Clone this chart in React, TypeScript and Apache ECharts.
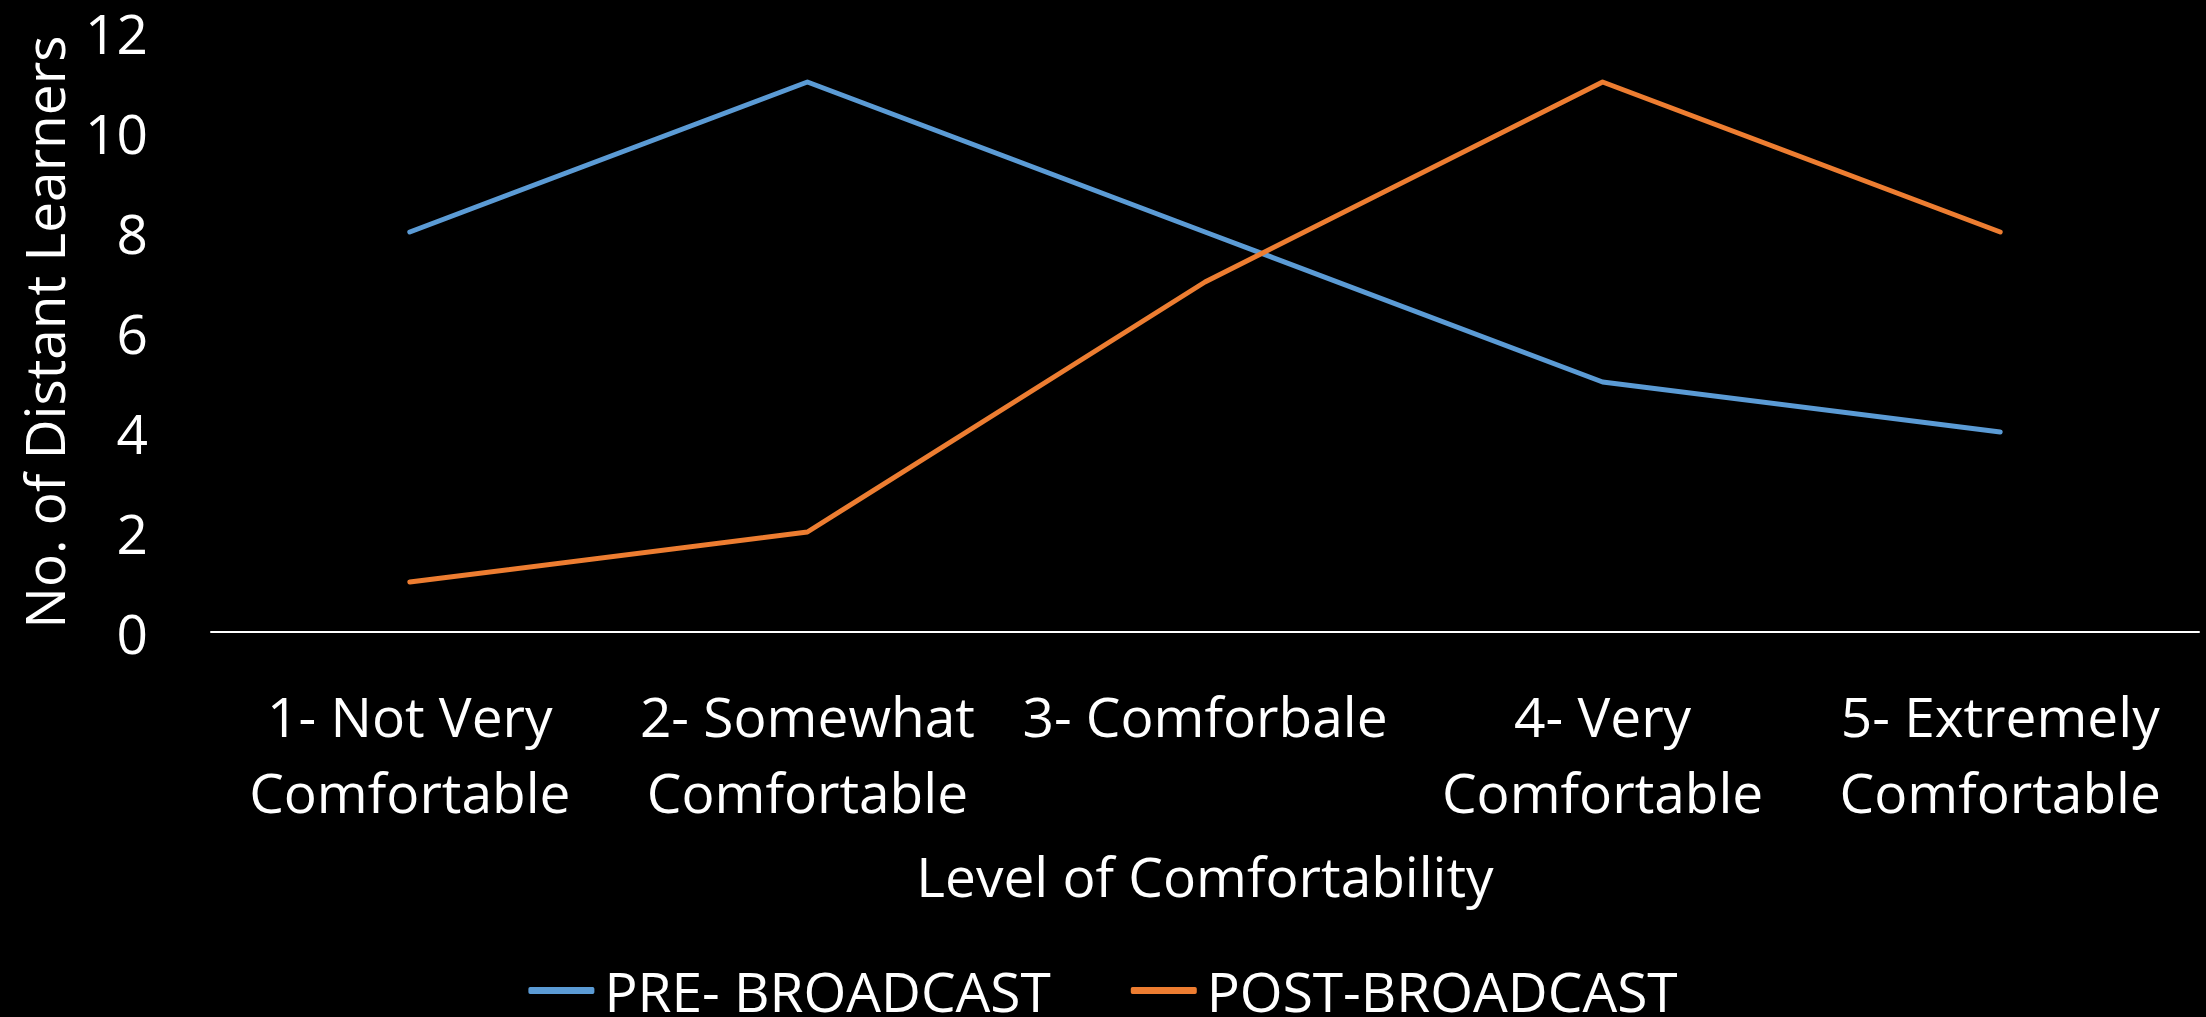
import React, { useEffect, useRef } from "react";
import * as echarts from "echarts";

const categories = [
  "1- Not Very\nComfortable",
  "2- Somewhat\nComfortable",
  "3- Comforbale",
  "4- Very\nComfortable",
  "5- Extremely\nComfortable",
];
const preBroadcast = [8, 11, 8, 5, 4];
const postBroadcast = [1, 2, 7, 11, 8];
const yTicks = { min: 0, max: 12, interval: 2 };

const FONT = "'Open Sans', 'Noto Sans', sans-serif";
const FS = 55;

export default function App() {
  const ref = useRef<HTMLDivElement>(null);
  useEffect(() => {
    document.body.style.margin = "0";
    document.body.style.overflow = "hidden";
    document.body.style.background = "#000000";
    if (!ref.current) return;
    const chart = echarts.init(ref.current, undefined, { renderer: "svg" });
    chart.setOption({
      animation: false,
      backgroundColor: "#000000",
      textStyle: { fontFamily: FONT, color: "#ffffff" },
      grid: { left: 211, right: 7, top: 32, bottom: 385, containLabel: false },
      legend: {
        show: true,
        left: "center",
        top: 958,
        itemWidth: 66,
        itemHeight: 7,
        itemGap: 80,
        icon: "roundRect",
        textStyle: { color: "#ffffff", fontSize: FS, fontFamily: FONT, padding: [0, 0, 0, 5] },
        data: ["PRE- BROADCAST", "POST-BROADCAST"],
      },
      xAxis: {
        type: "category",
        data: categories,
        boundaryGap: true,
        name: "Level of Comfortability",
        nameLocation: "middle",
        nameGap: 216,
        nameTextStyle: { color: "#ffffff", fontSize: FS, fontFamily: FONT, verticalAlign: "top" },
        axisLine: { show: true, lineStyle: { color: "#ffffff", width: 2 } },
        axisTick: { show: false },
        axisLabel: {
          color: "#ffffff",
          fontSize: FS,
          fontFamily: FONT,
          margin: 45,
          lineHeight: 76,
          interval: 0,
        },
        splitLine: { show: false },
      },
      yAxis: {
        type: "value",
        min: yTicks.min,
        max: yTicks.max,
        interval: yTicks.interval,
        name: "No. of Distant Learners",
        nameLocation: "middle",
        nameGap: 140,
        nameRotate: 90,
        nameTextStyle: { color: "#ffffff", fontSize: FS, fontFamily: FONT },
        axisLine: { show: false },
        axisTick: { show: false },
        splitLine: { show: false },
        axisLabel: { color: "#ffffff", fontSize: FS, fontFamily: FONT, margin: 63 },
      },
      series: [
        {
          name: "PRE- BROADCAST",
          type: "line",
          data: preBroadcast,
          symbol: "none",
          color: "#5B9BD5",
          lineStyle: { color: "#5B9BD5", width: 5, cap: "round", join: "round" },
        },
        {
          name: "POST-BROADCAST",
          type: "line",
          data: postBroadcast,
          symbol: "none",
          color: "#ED7D31",
          lineStyle: { color: "#ED7D31", width: 5, cap: "round", join: "round" },
        },
      ],
    });
    return () => chart.dispose();
  }, []);
  return <div ref={ref} style={{ width: 2206, height: 1017 }} />;
}
